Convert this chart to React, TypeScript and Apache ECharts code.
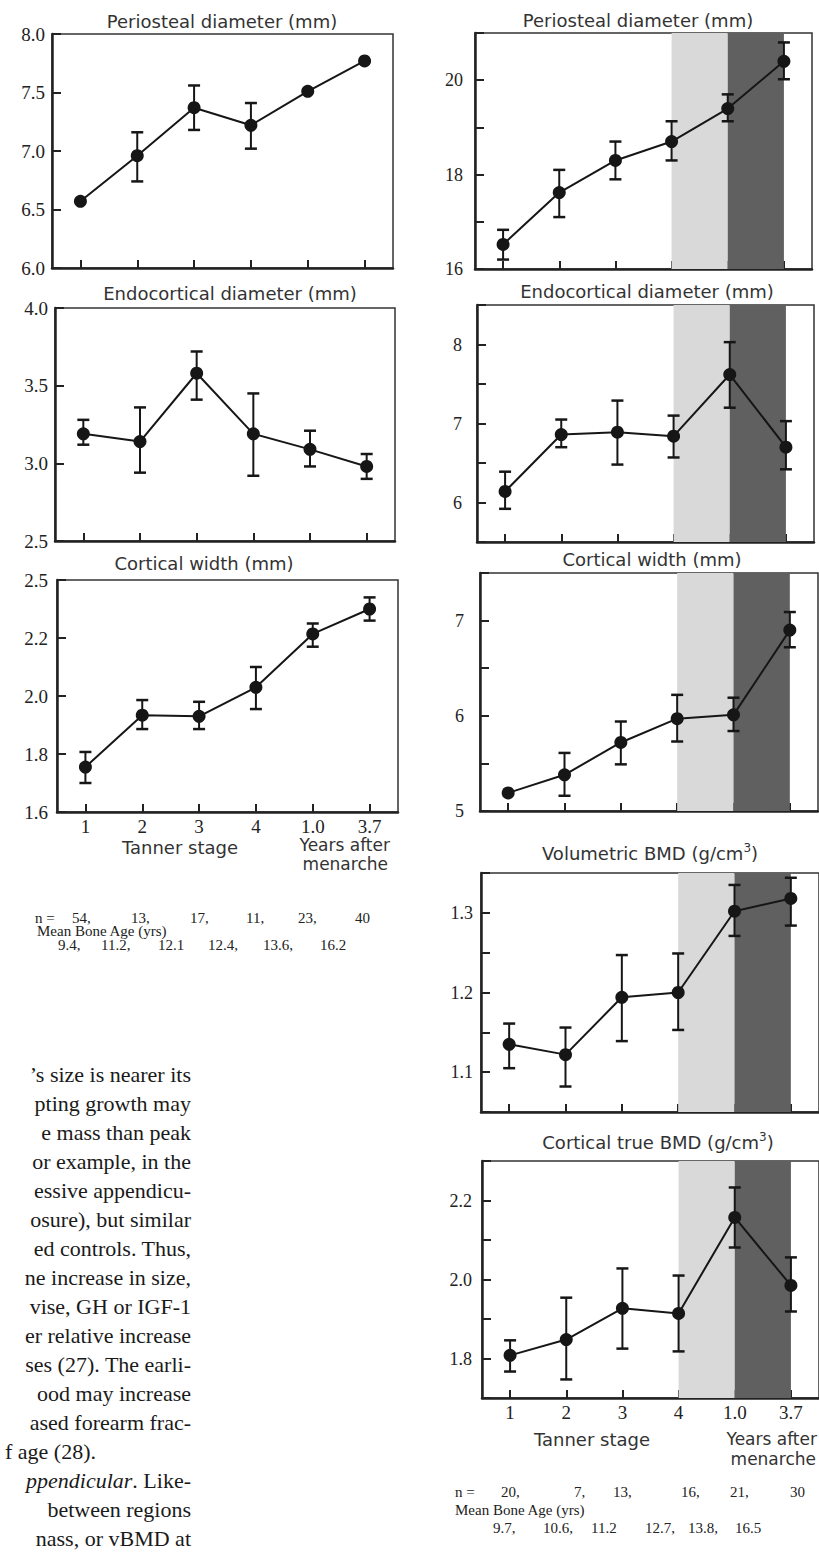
import React, { useEffect, useRef } from "react";
import * as echarts from "echarts";

// ---------- categories ----------
const xCategories = ["1", "2", "3", "4", "1.0", "3.7"];

// ---------- left figure ----------
const periLeftMean = [6.57, 6.96, 7.37, 7.22, 7.51, 7.77];
const periLeftLow = [null, 6.74, 7.18, 7.02, null, null];
const periLeftHigh = [null, 7.16, 7.56, 7.41, null, null];
const periLeftTicks = ["6.0", "6.5", "7.0", "7.5", "8.0"];

const endoLeftMean = [3.19, 3.14, 3.58, 3.19, 3.09, 2.98];
const endoLeftLow = [3.12, 2.94, 3.41, 2.92, 2.98, 2.9];
const endoLeftHigh = [3.28, 3.36, 3.72, 3.45, 3.21, 3.06];
const endoLeftTicks = ["2.5", "3.0", "3.5", "4.0"];

const cwLeftMean = [1.755, 1.934, 1.93, 2.03, 2.214, 2.3];
const cwLeftLow = [1.7, 1.886, 1.886, 1.955, 2.17, 2.26];
const cwLeftHigh = [1.807, 1.986, 1.98, 2.1, 2.25, 2.34];
const cwLeftTicks = ["1.6", "1.8", "2.0", "2.2", "2.5"];

const nLeft = ["54,", "13,", "17,", "11,", "23,", "40"];
const boneAgeLeft = ["9.4,", "11.2,", "12.1", "12.4,", "13.6,", "16.2"];

// ---------- right figure ----------
const periRightMean = [16.52, 17.62, 18.3, 18.7, 19.4, 20.4];
const periRightLow = [16.2, 17.1, 17.9, 18.3, 19.13, 20.02];
const periRightHigh = [16.83, 18.1, 18.7, 19.13, 19.7, 20.8];
const periRightTicks = ["16", "", "18", "", "20", ""];

const endoRightMean = [6.14, 6.86, 6.89, 6.84, 7.62, 6.7];
const endoRightLow = [5.92, 6.7, 6.48, 6.57, 7.2, 6.42];
const endoRightHigh = [6.39, 7.05, 7.29, 7.1, 8.03, 7.03];
const endoRightTicks = ["", "6", "", "7", "", "8", ""];

const cwRightMean = [5.19, 5.38, 5.72, 5.97, 6.01, 6.9];
const cwRightLow = [null, 5.16, 5.49, 5.73, 5.84, 6.72];
const cwRightHigh = [null, 5.61, 5.94, 6.22, 6.19, 7.09];
const cwRightTicks = ["5", "", "6", "", "7", ""];

const vbmdMean = [1.135, 1.122, 1.194, 1.2, 1.302, 1.318];
const vbmdLow = [1.105, 1.082, 1.139, 1.153, 1.271, 1.284];
const vbmdHigh = [1.161, 1.156, 1.247, 1.249, 1.335, 1.344];
const vbmdTicks = ["", "1.1", "", "1.2", "", "1.3", ""];

const ctbmdMean = [1.808, 1.848, 1.927, 1.914, 2.157, 1.985];
const ctbmdLow = [1.767, 1.747, 1.825, 1.818, 2.081, 1.919];
const ctbmdHigh = [1.846, 1.954, 2.028, 2.01, 2.233, 2.056];
const ctbmdTicks = ["", "1.8", "", "2.0", "", "2.2", ""];

const nRight = ["20,", "7,", "13,", "16,", "21,", "30"];
const boneAgeRight = ["9.7,", "10.6,", "11.2", "12.7,", "13.8,", "16.5"];

// ---------- body text (clipped page column) ----------
const bodyLines = [
  "\u2019s size is nearer its",
  "pting growth may",
  "e mass than peak",
  "or example, in the",
  "essive appendicu-",
  "osure), but similar",
  "ed controls. Thus,",
  "ne increase in size,",
  "vise, GH or IGF-1",
  "er relative increase",
  "ses (27). The earli-",
  "ood may increase",
  "ased forearm frac-",
  "f age (28).",
  "{i|ppendicular}{n|. Like-}",
  " between regions",
  "nass, or vBMD at",
];
const bodyLineEnds = [191, 191, 191, 191, 191, 191, 191, 191, 191, 191, 191, 191, 191, 96, 191, 191, 191];

const SANS = "DejaVu Sans";
const SERIF = "Liberation Serif";
const INK = "#161616";

type Panel = {
  grid: [number, number, number, number];
  min: number;
  max: number;
  step: number;
  ticks: string[];
  mean: number[];
  low: (number | null)[];
  high: (number | null)[];
  bands: boolean;
  xLabels: boolean;
  margin: number;
  yFont: number;
};

const panels: Panel[] = [
  { grid: [52, 34, 341, 234], min: 6, max: 8, step: 0.5, ticks: periLeftTicks, mean: periLeftMean, low: periLeftLow, high: periLeftHigh, bands: false, xLabels: false, margin: 7, yFont: 19 },
  { grid: [55, 308, 340, 233], min: 2.5, max: 4, step: 0.5, ticks: endoLeftTicks, mean: endoLeftMean, low: endoLeftLow, high: endoLeftHigh, bands: false, xLabels: false, margin: 7, yFont: 19 },
  { grid: [57, 580, 341, 232], min: 1.6, max: 2.4, step: 0.2, ticks: cwLeftTicks, mean: cwLeftMean, low: cwLeftLow, high: cwLeftHigh, bands: false, xLabels: true, margin: 9, yFont: 19 },
  { grid: [475, 33, 337, 236], min: 16, max: 21, step: 1, ticks: periRightTicks, mean: periRightMean, low: periRightLow, high: periRightHigh, bands: true, xLabels: false, margin: 12, yFont: 18 },
  { grid: [477, 305, 337, 237], min: 5.5, max: 8.5, step: 0.5, ticks: endoRightTicks, mean: endoRightMean, low: endoRightLow, high: endoRightHigh, bands: true, xLabels: false, margin: 15, yFont: 18 },
  { grid: [480, 573, 338, 238], min: 5, max: 7.5, step: 0.5, ticks: cwRightTicks, mean: cwRightMean, low: cwRightLow, high: cwRightHigh, bands: true, xLabels: false, margin: 16, yFont: 18 },
  { grid: [481, 873, 338, 239], min: 1.05, max: 1.35, step: 0.05, ticks: vbmdTicks, mean: vbmdMean, low: vbmdLow, high: vbmdHigh, bands: true, xLabels: false, margin: 8, yFont: 18 },
  { grid: [482, 1161, 339, 237], min: 1.7, max: 2.3, step: 0.1, ticks: ctbmdTicks, mean: ctbmdMean, low: ctbmdLow, high: ctbmdHigh, bands: true, xLabels: true, margin: 10, yFont: 18 },
];

const titles: { text: string; x: number; y: number }[] = [
  { text: "Periosteal diameter (mm)", x: 222, y: 21 },
  { text: "Endocortical diameter (mm)", x: 230, y: 293 },
  { text: "Cortical width (mm)", x: 204, y: 563 },
  { text: "Periosteal diameter (mm)", x: 638, y: 20 },
  { text: "Endocortical diameter (mm)", x: 647, y: 291 },
  { text: "Cortical width (mm)", x: 652, y: 559 },
  { text: "{a|Volumetric BMD (g/cm}{s|3}{a|)}", x: 650, y: 853 },
  { text: "{a|Cortical true BMD (g/cm}{s|3}{a|)}", x: 658, y: 1142 },
];

function txt(text: string, x: number, y: number, size: number, family: string, align = "left", color = "#222", extra: any = {}) {
  return {
    type: "text",
    x,
    y,
    silent: true,
    style: {
      text,
      fill: color,
      fontSize: size,
      fontFamily: family,
      align,
      textAlign: align,
      verticalAlign: "middle",
      textVerticalAlign: "middle",
      ...extra,
    },
  };
}

function buildOption() {
  const grids: any[] = [];
  const xAxes: any[] = [];
  const yAxes: any[] = [];
  const series: any[] = [];

  panels.forEach((p, i) => {
    grids.push({
      left: p.grid[0],
      top: p.grid[1],
      width: p.grid[2],
      height: p.grid[3],
      show: true,
      borderColor: "#333",
      borderWidth: 1.5,
      backgroundColor: "transparent",
    });
    xAxes.push({
      gridIndex: i,
      type: "category",
      data: xCategories,
      boundaryGap: true,
      axisLine: { show: true, lineStyle: { color: "#222", width: 2.5 } },
      axisTick: { show: true, inside: true, alignWithLabel: true, interval: 0, length: 8, lineStyle: { color: "#222", width: 2 } },
      axisLabel: { show: p.xLabels, interval: 0, fontFamily: SERIF, fontSize: 19, color: "#222", margin: 5 },
      splitLine: { show: false },
    });
    yAxes.push({
      gridIndex: i,
      type: "value",
      min: p.min,
      max: p.max,
      interval: p.step,
      axisLine: { show: true, lineStyle: { color: "#222", width: 2.5 } },
      axisTick: { show: true, inside: true, length: 9, lineStyle: { color: "#222", width: 2 } },
      axisLabel: {
        fontFamily: SERIF,
        fontSize: p.yFont,
        color: "#222",
        margin: p.margin,
        formatter: (_v: number, idx: number) => (p.ticks[idx] !== undefined ? p.ticks[idx] : ""),
      },
      splitLine: { show: false },
    });

    if (p.bands) {
      series.push({
        type: "line",
        xAxisIndex: i,
        yAxisIndex: i,
        data: p.mean,
        symbol: "none",
        silent: true,
        lineStyle: { opacity: 0 },
        z: 1,
        markArea: {
          silent: true,
          data: [
            [{ xAxis: xCategories[3], itemStyle: { color: "#d9d9d9" } }, { xAxis: xCategories[4] }],
            [{ xAxis: xCategories[4], itemStyle: { color: "#606060" } }, { xAxis: xCategories[5] }],
          ],
        },
      });
    }

    const errData: number[][] = [];
    p.mean.forEach((_m, k) => {
      const lo = p.low[k];
      const hi = p.high[k];
      if (lo !== null && hi !== null) errData.push([k, lo, hi]);
    });
    series.push({
      type: "custom",
      xAxisIndex: i,
      yAxisIndex: i,
      data: errData,
      z: 3,
      silent: true,
      encode: { x: 0, y: [1, 2] },
      renderItem: (_params: any, api: any) => {
        const k = api.value(0);
        const lo = api.coord([k, api.value(1)]);
        const hi = api.coord([k, api.value(2)]);
        const hw = 6;
        return {
          type: "group",
          children: [
            { type: "line", shape: { x1: lo[0], y1: lo[1], x2: hi[0], y2: hi[1] }, style: { stroke: INK, lineWidth: 2 } },
            { type: "line", shape: { x1: lo[0] - hw, y1: lo[1], x2: lo[0] + hw, y2: lo[1] }, style: { stroke: INK, lineWidth: 2.5 } },
            { type: "line", shape: { x1: hi[0] - hw, y1: hi[1], x2: hi[0] + hw, y2: hi[1] }, style: { stroke: INK, lineWidth: 2.5 } },
          ],
        };
      },
    });

    series.push({
      type: "line",
      xAxisIndex: i,
      yAxisIndex: i,
      data: p.mean,
      symbol: "circle",
      symbolSize: 13,
      itemStyle: { color: INK },
      lineStyle: { color: INK, width: 2 },
      z: 5,
    });
  });

  const graphics: any[] = [];
  titles.forEach((t) => {
    graphics.push(
      txt(t.text, t.x, t.y, 18, SANS, "center", "#333", {
        rich: {
          a: { fontSize: 18, fontFamily: SANS, fill: "#333" },
          s: { fontSize: 12, fontFamily: SANS, fill: "#333", padding: [0, 0, 10, 0] },
        },
      })
    );
  });

  // axis captions
  graphics.push(txt("Tanner stage", 180, 847, 18, SANS, "center", "#333"));
  graphics.push(txt("Years after", 390, 845, 17, SANS, "right", "#333"));
  graphics.push(txt("menarche", 388, 864, 17, SANS, "right", "#333"));
  graphics.push(txt("Tanner stage", 592, 1439, 18, SANS, "center", "#333"));
  graphics.push(txt("Years after", 817, 1439, 17, SANS, "right", "#333"));
  graphics.push(txt("menarche", 816, 1459, 17, SANS, "right", "#333"));

  // n and bone-age rows
  const nLeftX = [72, 131, 190, 246, 298, 355];
  const ageLeftX = [58, 101, 158, 208, 263, 320];
  graphics.push(txt("n =", 35, 918, 15, SERIF));
  nLeft.forEach((s, k) => graphics.push(txt(s, nLeftX[k], 918, 15, SERIF)));
  graphics.push(txt("Mean Bone Age (yrs)", 37, 931, 15, SERIF));
  boneAgeLeft.forEach((s, k) => graphics.push(txt(s, ageLeftX[k], 945, 15, SERIF)));

  const nRightX = [501, 574, 613, 681, 730, 790];
  const ageRightX = [493, 543, 591, 645, 688, 735];
  graphics.push(txt("n =", 455, 1492, 15, SERIF));
  nRight.forEach((s, k) => graphics.push(txt(s, nRightX[k], 1492, 15, SERIF)));
  graphics.push(txt("Mean Bone Age (yrs)", 455, 1510, 15, SERIF));
  boneAgeRight.forEach((s, k) => graphics.push(txt(s, ageRightX[k], 1528, 15, SERIF)));

  // body text
  bodyLines.forEach((line, k) => {
    graphics.push(
      txt(line, bodyLineEnds[k], 1074 + k * 29, 22, SERIF, "right", "#1a1a1a", {
        rich: {
          i: { fontSize: 22, fontFamily: SERIF, fontStyle: "italic", fill: "#1a1a1a" },
          n: { fontSize: 22, fontFamily: SERIF, fill: "#1a1a1a" },
        },
      })
    );
  });

  return {
    animation: false,
    backgroundColor: "#ffffff",
    grid: grids,
    xAxis: xAxes,
    yAxis: yAxes,
    series,
    graphic: { elements: graphics },
  };
}

export default function App() {
  const ref = useRef<HTMLDivElement>(null);
  useEffect(() => {
    document.body.style.margin = "0";
    const chart = echarts.init(ref.current as HTMLDivElement, null, { renderer: "svg" });
    chart.setOption(buildOption() as any);
    return () => {
      chart.dispose();
    };
  }, []);
  return <div ref={ref} style={{ width: 819, height: 1555, background: "#fff" }} />;
}
